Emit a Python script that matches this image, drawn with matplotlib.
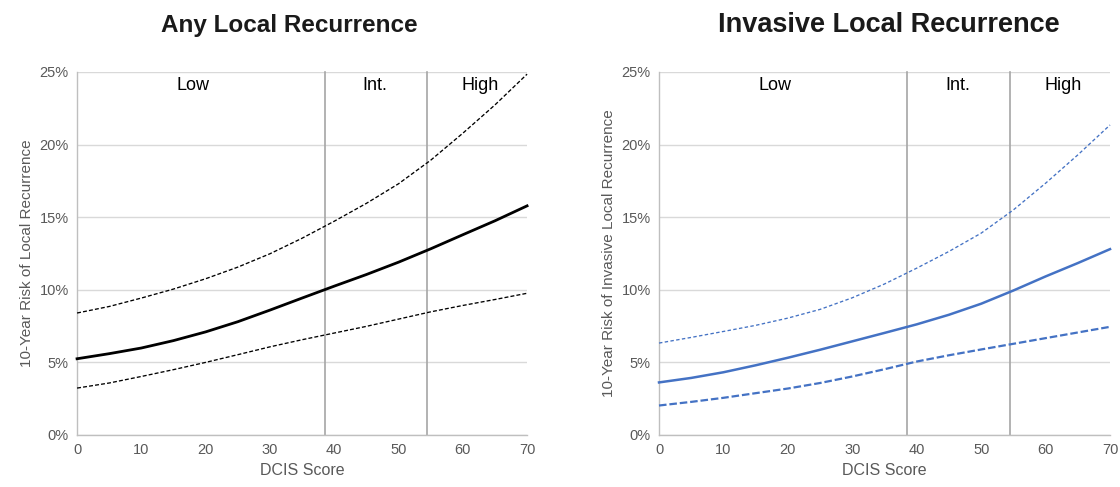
import matplotlib
matplotlib.use("Agg")
import matplotlib.pyplot as plt
from matplotlib.ticker import FuncFormatter

plt.rcParams['font.family'] = ['Liberation Sans', 'DejaVu Sans']

# DCIS score sample points
scores = [0, 5, 10, 15, 20, 25, 30, 35, 40, 45, 50, 55, 60, 65, 70]

# Any local recurrence (%)
any_mid = [5.25, 5.6, 5.99, 6.5, 7.1, 7.8, 8.6, 9.43, 10.25, 11.05, 11.9, 12.82, 13.79, 14.75, 15.78]
any_hi = [8.4, 8.85, 9.43, 10.05, 10.76, 11.56, 12.48, 13.55, 14.72, 15.95, 17.3, 18.92, 20.78, 22.73, 24.85]
any_lo = [3.23, 3.58, 4.03, 4.5, 5.0, 5.53, 6.07, 6.56, 7.02, 7.48, 7.98, 8.48, 8.92, 9.33, 9.76]

# Invasive local recurrence (%)
inv_mid = [3.62, 3.93, 4.32, 4.8, 5.32, 5.87, 6.45, 7.03, 7.62, 8.28, 9.04, 9.95, 10.92, 11.84, 12.8]
inv_hi = [6.33, 6.72, 7.13, 7.55, 8.05, 8.65, 9.45, 10.4, 11.49, 12.64, 13.9, 15.5, 17.34, 19.29, 21.35]
inv_lo = [2.03, 2.28, 2.56, 2.88, 3.2, 3.58, 4.03, 4.53, 5.06, 5.49, 5.89, 6.28, 6.67, 7.06, 7.45]

# Risk group boundaries and labels
cutoffs = [38.5, 54.5]
group_labels = ["Low", "Int.", "High"]
group_pos = [18, 46.3, 62.7]

titles = ["Any Local Recurrence", "Invasive Local Recurrence"]
ylabels = ["10-Year Risk of Local Recurrence",
           "10-Year Risk of Invasive Local Recurrence"]
xlabel = "DCIS Score"

fig = plt.figure(figsize=(11.2, 4.87), dpi=100)
ax1 = fig.add_axes([0.0688, 0.1068, 0.4018, 0.7454])
ax2 = fig.add_axes([0.5884, 0.1068, 0.4027, 0.7454])

blue = '#4472C4'
tick_color = '#595959'

def style(ax, title, ylabel, title_x, title_size):
    ax.set_xlim(0, 70)
    ax.set_ylim(0, 25)
    ax.set_xticks(range(0, 71, 10))
    ax.set_yticks(range(0, 26, 5))
    ax.yaxis.set_major_formatter(FuncFormatter(lambda v, p: f"{int(v)}%"))
    ax.tick_params(length=0, labelsize=10.5, colors=tick_color, pad=6)
    ax.grid(axis='y', color='#d9d9d9', linewidth=1)
    ax.set_axisbelow(True)
    for s in ['top', 'right']:
        ax.spines[s].set_visible(False)
    for s in ['left', 'bottom']:
        ax.spines[s].set_color('#bfbfbf')
        ax.spines[s].set_linewidth(1)
    for c in cutoffs:
        ax.axvline(c, color='#a6a6a6', linewidth=1.2, zorder=1)
    for lab, xp in zip(group_labels, group_pos):
        ax.text(xp, 24.1, lab, ha='center', va='center', fontsize=13, color='#000000')
    ax.set_title(title, fontsize=title_size, fontweight='bold', pad=29, x=title_x,
                 color='#1a1a1a')
    ax.set_ylabel(ylabel, fontsize=11, color=tick_color, labelpad=4)
    ax.set_xlabel(xlabel, fontsize=11.5, color=tick_color, labelpad=4)

style(ax1, titles[0], ylabels[0], 0.471, 17.5)
style(ax2, titles[1], ylabels[1], 0.509, 19.5)

ax1.plot(scores, any_mid, color='black', linewidth=2.0, zorder=3)
ax1.plot(scores, any_hi, color='black', linewidth=0.95, linestyle=(0, (3, 1.6)), zorder=3)
ax1.plot(scores, any_lo, color='black', linewidth=0.95, linestyle=(0, (3, 1.6)), zorder=3)

ax2.plot(scores, inv_mid, color=blue, linewidth=1.8, zorder=3)
ax2.plot(scores, inv_hi, color=blue, linewidth=0.95, linestyle=(0, (2.6, 1.8)), zorder=3)
ax2.plot(scores, inv_lo, color=blue, linewidth=1.6, linestyle=(0, (3.4, 1.3)), zorder=3)

for ax in (ax1, ax2):
    for ln in ax.lines:
        ln.set_clip_on(False)

fig.savefig("out.png", dpi=100)
